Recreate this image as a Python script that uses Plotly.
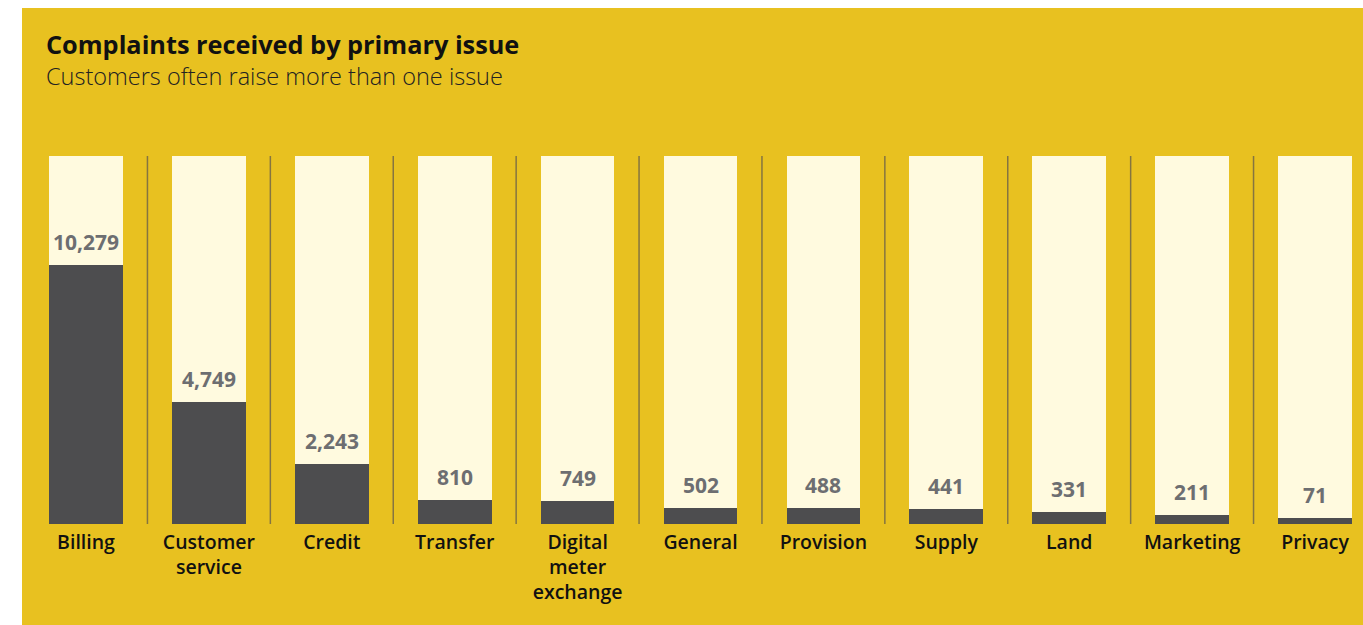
import plotly.graph_objects as go

categories = ["Billing", "Customer service", "Credit", "Transfer", "Digital meter exchange",
              "General", "Provision", "Supply", "Land", "Marketing", "Privacy"]
tick_labels = ["Billing", "Customer<br>service", "Credit", "Transfer", "Digital<br>meter<br>exchange",
               "General", "Provision", "Supply", "Land", "Marketing", "Privacy"]
complaints = [10279, 4749, 2243, 810, 749, 502, 488, 441, 331, 211, 71]

TITLE = "Complaints received by primary issue"
SUBTITLE = "Customers often raise more than one issue"

# styling
W, H = 1363, 625
Y_BOTTOM, Y_TOP = -160, 14670
YELLOW = "#E8C120"
CREAM = "#FFFADF"
DARK = "#4D4D4F"
LABEL_GRAY = "#6D6E71"
SEP = "#857540"
FONT = "Open Sans"
PLOT_TOP, PLOT_BOTTOM = 156, 524

n = len(categories)
idx = list(range(n))

fig = go.Figure()
fig.add_trace(go.Bar(
    x=idx, y=[Y_TOP - Y_BOTTOM] * n, base=Y_BOTTOM,
    marker=dict(color=CREAM, line=dict(width=0)), width=0.6,
    hoverinfo="skip", showlegend=False))
fig.add_trace(go.Bar(
    x=idx, y=[v - Y_BOTTOM for v in complaints], base=Y_BOTTOM,
    marker=dict(color=DARK, line=dict(width=0)), width=0.6,
    customdata=complaints, hovertemplate="%{customdata:,}<extra></extra>",
    showlegend=False))

annotations = []
for i, v in zip(idx, complaints):
    annotations.append(dict(
        x=i, y=v, xref="x", yref="y", text=f"{v:,}", showarrow=False,
        yanchor="middle", yshift=23,
        font=dict(family=FONT, size=21, color=LABEL_GRAY, weight="bold")))

plot_h = PLOT_BOTTOM - PLOT_TOP
def py(pix):
    return (PLOT_BOTTOM - pix) / plot_h

annotations.append(dict(
    x=44 / W, y=py(44), xref="paper", yref="paper", text=f"<b>{TITLE}</b>",
    showarrow=False, xanchor="left", yanchor="middle",
    font=dict(family=FONT, size=25.3, color="#111111")))
annotations.append(dict(
    x=44 / W, y=py(76), xref="paper", yref="paper", text=SUBTITLE,
    showarrow=False, xanchor="left", yanchor="middle",
    font=dict(family=FONT, size=23.5, color="#222222", weight=300)))

shapes = [dict(type="rect", xref="paper", yref="paper",
               x0=22 / W, x1=1.0, y0=py(H + 5), y1=py(8),
               fillcolor=YELLOW, line=dict(width=0), layer="below")]
for i in range(1, n):
    shapes.append(dict(type="line", xref="x", yref="paper",
                       x0=i - 0.5, x1=i - 0.5, y0=0, y1=1,
                       line=dict(color=SEP, width=1.5), layer="below"))

cat_spacing = 122.9
x0 = -86 / cat_spacing
x1 = x0 + W / cat_spacing

fig.update_layout(
    width=W, height=H,
    margin=dict(l=0, r=0, t=PLOT_TOP, b=H - PLOT_BOTTOM, pad=0),
    paper_bgcolor="white", plot_bgcolor="rgba(0,0,0,0)",
    barmode="overlay", bargap=0,
    xaxis=dict(range=[x0, x1], tickmode="array", tickvals=idx, ticktext=tick_labels,
               showgrid=False, zeroline=False, showline=False, ticks="",
               tickfont=dict(family=FONT, size=19.5, color="#111111", weight=600),
               ticklabelstandoff=4, fixedrange=True),
    yaxis=dict(range=[Y_BOTTOM, Y_TOP], visible=False, fixedrange=True),
    annotations=annotations, shapes=shapes,
    font=dict(family=FONT),
)

fig.write_html("out.html", config={"displayModeBar": False},
               post_script="document.body.style.margin='0px';document.body.style.overflow='hidden';")
